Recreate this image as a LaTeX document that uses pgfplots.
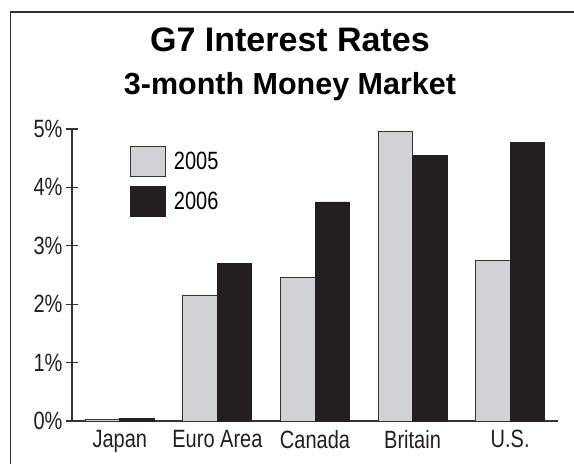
\documentclass[border=0pt]{standalone}
\usepackage{fontspec}
\setmainfont{Liberation Sans}
\newfontfamily\condfont[FakeStretch=0.8]{Liberation Sans}
\usepackage{pgfplots}
\pgfplotsset{compat=1.18}
\definecolor{lightbar}{HTML}{D1D2D4}
\definecolor{darkbar}{HTML}{231F20}
\definecolor{axisgray}{HTML}{333333}

\pgfplotstableread{
x  y2005 y2006
0  0.03  0.05
1  2.15  2.70
2  2.46  3.75
3  4.95  4.55
4  2.75  4.77
}\rates

\begin{document}
\begin{tikzpicture}
\useasboundingbox (-72pt,-43pt) rectangle (502pt,421pt);
% frame (cut off at right and bottom)
\draw[axisgray, line width=1.4pt] (-61.5pt,-60pt) -- (-61.5pt,409pt) -- (520pt,409pt);
\node[font=\bfseries\fontsize{34}{34}\selectfont, anchor=base] at (218pt,369pt) {G7 Interest Rates};
\node[font=\bfseries\fontsize{30.5}{30.5}\selectfont, anchor=base] at (218pt,326pt) {3-month Money Market};
\begin{axis}[
    scale only axis,
    width=486pt, height=292pt,
    at={(0pt,0pt)}, anchor=south west,
    xmin=-0.49, xmax=4.49,
    ymin=0, ymax=5,
    axis x line=bottom, axis y line=left,
    axis line style={axisgray, line width=1.1pt, -},
    ybar=0pt, bar width=34.5pt,
    xtick={0,1,2,3,4},
    xticklabels={Japan, Euro Area, Canada, Britain, U.S.},
    ytick={0,1,2,3,4,5},
    yticklabels={0\%,1\%,2\%,3\%,4\%,5\%},
    /pgf/number format/assume math mode=true,
    ticklabel style={font=\condfont\fontsize{25}{25}\selectfont, text=darkbar},
    x tick style={draw=none},
    y tick style={axisgray, line width=1.1pt},
    major tick length=12pt, tick align=center,
    xticklabel style={yshift=0pt},
    legend style={draw=none, fill=none, at={(0.119,0.942)}, anchor=north west,
        inner sep=0pt, row sep=9pt, font=\condfont\fontsize{25}{25}\selectfont,
        legend cell align=left,
        /tikz/every odd column/.append style={column sep=6pt}},
    legend image code/.code={\draw[#1] (0pt,-15pt) rectangle (35pt,15pt);},
]
\addplot[fill=lightbar, draw=axisgray, line width=0.9pt] table[x=x, y=y2005] {\rates};
\addlegendentry{2005}
\addplot[fill=darkbar, draw=darkbar, line width=0.9pt] table[x=x, y=y2006] {\rates};
\addlegendentry{2006}
\end{axis}
\end{tikzpicture}
\end{document}
